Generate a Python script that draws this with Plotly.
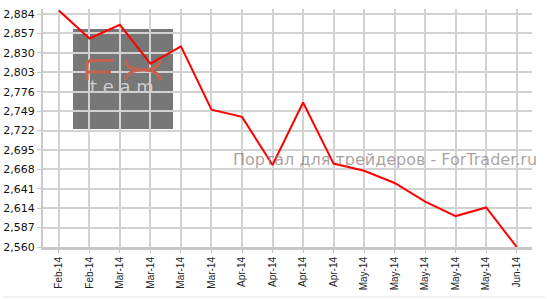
import plotly.graph_objects as go

labels = ["Feb-14", "Feb-14", "Mar-14", "Mar-14", "Mar-14", "Mar-14", "Apr-14", "Apr-14",
          "Apr-14", "Apr-14", "May-14", "May-14", "May-14", "May-14", "May-14", "Jun-14"]
values = [2889, 2850, 2869, 2815, 2839, 2751, 2741, 2674,
          2761, 2676, 2666, 2649, 2623, 2603, 2615, 2560]
y_ticks = [2560, 2587, 2614, 2641, 2668, 2695, 2722, 2749, 2776, 2803, 2830, 2857, 2884]

xs = list(range(len(values)))

fig = go.Figure()
fig.add_trace(go.Scatter(x=xs, y=values, mode="lines",
                         line=dict(color="#ff0000", width=2), hoverinfo="skip"))

W, H = 547, 299
L, R, T, B = 43, 15, 9, 52
pw, ph = W - L - R, H - T - B

def px(x):
    return (x - L) / pw

def py(y):
    return (H - B - y) / ph

def P(x, y):
    return f"{px(x):.5f},{py(y):.5f}"

logo_col = "#c4644f"
logo_line = dict(color=logo_col, width=3)
shapes = [
    dict(type="rect", xref="paper", yref="paper", x0=px(73), x1=px(173), y0=py(129), y1=py(29),
         fillcolor="#777777", line=dict(width=0), layer="below"),
    # "F"
    dict(type="path", xref="paper", yref="paper",
         path=f"M{P(87, 80)} L{P(87, 65)} Q{P(87, 60.5)} {P(92, 60.5)} L{P(114, 60.5)}",
         line=logo_line),
    dict(type="path", xref="paper", yref="paper",
         path=f"M{P(87, 72)} L{P(111, 72)}", line=logo_line),
    # "X"
    dict(type="path", xref="paper", yref="paper",
         path=f"M{P(126, 60)} Q{P(127, 70)} {P(143, 70)} Q{P(127, 70)} {P(126, 80)}",
         line=logo_line),
    dict(type="path", xref="paper", yref="paper",
         path=f"M{P(160, 60)} Q{P(159, 70)} {P(143, 70)} Q{P(159, 70)} {P(160, 80)}",
         line=logo_line),
    dict(type="line", xref="paper", yref="paper", x0=px(3), x1=px(545), y0=py(297), y1=py(297),
         line=dict(color="#e4e4e4", width=1)),
]

nb = "\u00a0"
annotations = [
    dict(text=f"t{nb}e{nb}a{nb}m", xref="paper", yref="paper", x=px(122), y=py(87),
         showarrow=False,
         font=dict(family="DejaVu Sans", size=18, color="#cdcdcd"), xanchor="center", yanchor="middle",
         borderpad=0),
    dict(text="Портал для трейдеров - ForTrader.ru", xref="paper", yref="paper",
         x=px(385), y=py(159), showarrow=False,
         font=dict(family="DejaVu Sans", size=16, color="rgba(140,125,125,0.72)"),
         xanchor="center", yanchor="middle"),
]

fig.update_layout(
    width=W, height=H,
    margin=dict(l=L, r=R, t=T, b=B, pad=0, autoexpand=False),
    paper_bgcolor="white", plot_bgcolor="white",
    showlegend=False,
    shapes=shapes, annotations=annotations,
    xaxis=dict(
        range=[-0.52, 15.5], tickmode="array", tickvals=xs, ticktext=labels,
        tickangle=-90, tickfont=dict(family="Liberation Sans", size=10, color="#222222"),
        showgrid=True, gridcolor="#d2d2d2", gridwidth=1.5,
        showline=True, linecolor="#c8c8c8", linewidth=3,
        ticks="outside", ticklen=3, tickcolor="#c8c8c8", zeroline=False, automargin=False,
    ),
    yaxis=dict(
        range=[2560, 2891], tickmode="array", tickvals=y_ticks,
        ticktext=[f"{v:,}" for v in y_ticks],
        tickfont=dict(family="DejaVu Sans", size=11, color="#111111"),
        showgrid=True, gridcolor="#d2d2d2", gridwidth=1.5,
        showline=True, linecolor="#c8c8c8", linewidth=2,
        ticks="outside", ticklen=4, tickcolor="#c8c8c8", zeroline=False, automargin=False,
    ),
)

fig.write_html("out.html")
